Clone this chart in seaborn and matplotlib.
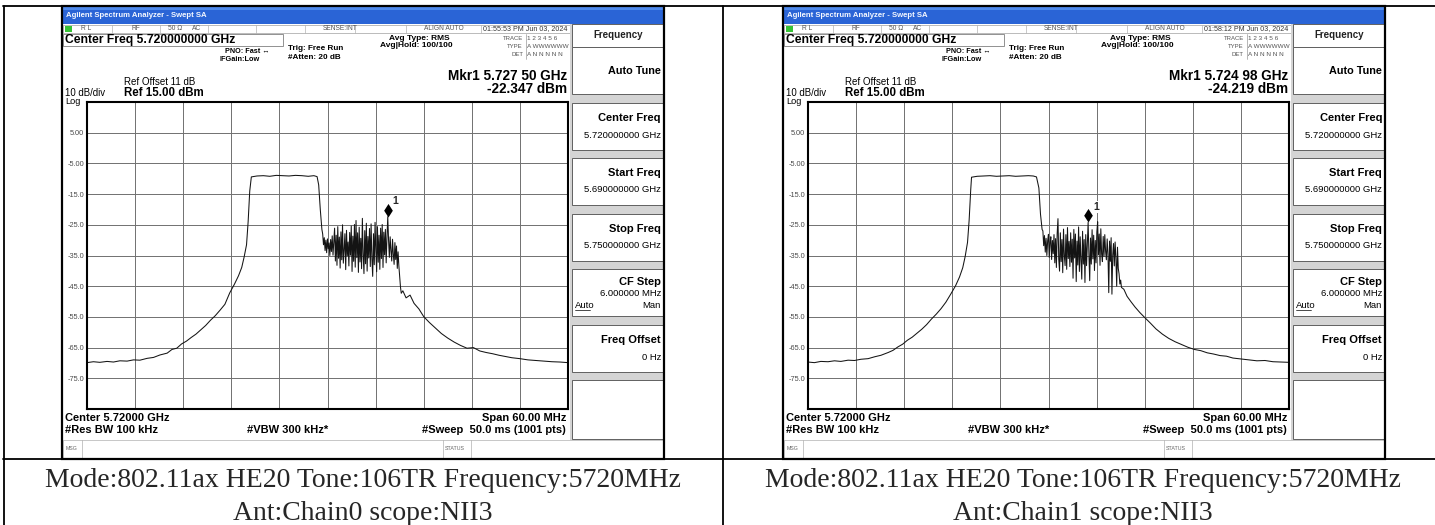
# Two Agilent spectrum analyzer screens (chain0 / chain1) inside a two-cell table
import matplotlib
matplotlib.use("Agg")
import matplotlib.pyplot as plt
import numpy as np
import pandas as pd
import seaborn as sns
from matplotlib.patches import Rectangle
from matplotlib.path import Path

span_ghz = (5.69, 5.75)
ref_range = (-85, 15)
ytick_vals = [5, -5, -15, -25, -35, -45, -55, -65, -75]
ytick_labels = ["5.00", "-5.00", "-15.0", "-25.0", "-35.0", "-45.0", "-55.0", "-65.0", "-75.0"]

# lower skirt (both chains share the frequency points)
skirt_lo_f = [5.6900, 5.6908, 5.6916, 5.6925, 5.6933, 5.6941, 5.6950, 5.6958, 5.6966, 5.6975,
              5.6983, 5.6991, 5.7000, 5.7006, 5.7012, 5.7018, 5.7024, 5.7030, 5.7036, 5.7042,
              5.7048, 5.7054, 5.7060, 5.7066, 5.7072, 5.7078, 5.7084, 5.7089, 5.7093, 5.7096,
              5.7099, 5.7101, 5.7103]
c0_skirt_lo = [-69.9, -69.6, -69.8, -69.5, -69.7, -69.3, -69.4, -69.0, -69.1, -68.5,
               -68.2, -67.4, -66.8, -65.6, -65.2, -63.8, -62.9, -61.7, -60.6, -59.2,
               -57.8, -56.1, -54.6, -52.8, -50.9, -47.2, -44.3, -41.6, -38.9, -35.5,
               -31.5, -24.0, -14.0]
c1_skirt_lo = [-69.7, -69.9, -69.5, -69.6, -69.3, -69.5, -69.1, -69.2, -68.8, -68.6,
               -68.0, -67.5, -66.6, -65.9, -64.8, -63.9, -62.6, -61.6, -60.3, -59.0,
               -57.5, -55.7, -54.1, -52.3, -50.2, -47.6, -44.9, -42.0, -39.0, -35.4,
               -30.7, -23.5, -13.5]

# flat top of the 106-tone RU and the fall into the noisy part
c0_top_f = [5.7105, 5.7112, 5.7120, 5.7128, 5.7136, 5.7144, 5.7152, 5.7160, 5.7168, 5.7176,
            5.7183, 5.7187, 5.7189, 5.7191, 5.7193]
c0_top = [-9.4, -9.1, -9.0, -9.2, -8.9, -9.0, -9.1, -8.9, -9.0, -9.2, -9.0, -9.3, -12.0, -20.0, -26.5]
c1_top_f = [5.7104, 5.7111, 5.7119, 5.7127, 5.7135, 5.7143, 5.7151, 5.7159, 5.7167, 5.7175,
            5.7181, 5.7185, 5.7188, 5.7190, 5.7192]
c1_top = [-9.5, -9.2, -9.1, -9.0, -9.2, -9.1, -9.0, -9.2, -9.1, -9.0, -9.1, -9.4, -13.0, -21.5, -26.5]

# noisy part, sampled evenly over its span
c0_noise_span = (5.7194, 5.7292)
c0_noise = [-28.0, -31.5, -29.2, -33.4, -30.0, -34.1, -29.6, -32.8, -30.9, -35.0, -29.8, -33.7, -28.6, -34.9, -30.4,
            -26.1, -36.8, -28.4, -38.2, -25.6, -35.9, -29.0, -39.1, -27.3, -36.4,
            -25.0, -37.5, -33.2, -27.9, -39.6, -26.8, -35.1, -30.6, -38.4, -27.5,
            -34.9, -25.4, -40.2, -28.7, -36.9, -24.9, -38.8, -23.6, -35.7, -27.6,
            -40.5, -25.8, -37.1, -29.4, -39.3, -22.9, -34.6, -40.9, -26.9, -37.7,
            -24.5, -40.1, -28.8, -35.8,
            -26.2, -38.6, -24.7, -36.1, -41.8, -27.9, -38.0, -24.2, -33.5, -40.3,
            -25.6, -37.2, -28.4, -39.5, -26.1, -36.0, -24.9, -38.9, -27.4, -34.8,
            -26.5, -37.4, -29.1, -22.347,
            -30.0, -35.6, -28.9, -33.4, -36.8, -29.7, -34.5, -37.9, -30.8, -36.3,
            -31.9, -39.2, -33.8, -38.4, -42.0, -45.2, -47.3]
c1_noise_span = (5.7193, 5.7291)
c1_noise = [-27.0, -31.8, -28.5, -33.9, -29.4, -35.0, -30.2, -28.1, -35.6, -30.8, -28.9, -36.3, -30.1, -34.4, -28.2,
            -37.4, -29.5, -38.9, -27.8, -23.0, -36.2, -40.1, -27.6, -37.0, -29.8,
            -40.6, -26.4, -35.1, -38.3, -28.2, -39.5, -25.9, -36.0, -30.4, -38.6,
            -27.6, -37.2, -29.7, -42.4, -26.5, -35.8, -28.0, -43.5, -30.3, -38.1,
            -25.7, -40.2, -28.9, -36.5, -42.7, -27.1, -37.8, -29.8, -43.8, -28.2,
            -38.3, -31.0, -24.219,
            -34.6, -43.2, -29.3, -37.8, -26.6, -36.1, -28.4, -39.9, -30.1, -37.4,
            -27.3, -24.0, -34.8, -28.0, -38.2, -26.3, -34.5, -37.0, -28.8, -35.3,
            -28.2, -33.6, -36.4,
            -29.6, -34.5, -47.1, -30.3, -36.9, -29.2, -47.6, -34.9, -31.1, -38.4,
            -30.6, -35.7, -45.0, -32.3, -39.2, -41.0, -44.3, -43.0, -45.4]

# upper skirt
skirt_hi_f = [5.7294, 5.7298, 5.7303, 5.7308, 5.7314, 5.7320, 5.7327, 5.7334, 5.7342, 5.7350,
              5.7358, 5.7366, 5.7374, 5.7382, 5.7390, 5.7398, 5.7406, 5.7414, 5.7422, 5.7430,
              5.7440, 5.7450, 5.7460, 5.7470, 5.7480, 5.7490, 5.7500]
c0_skirt_hi = [-46.5, -48.8, -47.9, -50.6, -52.4, -54.9, -56.8, -58.5, -60.4, -61.9,
               -63.2, -64.3, -65.2, -65.0, -66.1, -66.6, -67.0, -67.5, -67.9, -68.3,
               -68.6, -69.0, -69.2, -69.4, -69.6, -69.7, -69.9]
c1_skirt_hi = [-46.0, -48.3, -50.1, -51.8, -53.6, -55.2, -57.0, -58.9, -60.6, -62.0,
               -63.1, -64.0, -64.9, -65.6, -66.0, -66.7, -67.1, -67.6, -67.8, -68.4,
               -68.7, -69.0, -69.3, -69.2, -69.6, -69.7, -69.8]

mkr_freq = [5.72750, 5.72498]
mkr_level = [-22.347, -24.219]
mkr_text = ["Mkr1 5.727 50 GHz", "Mkr1 5.724 98 GHz"]
mkr_value_text = ["-22.347 dBm", "-24.219 dBm"]
clock_text = ["01:55:53 PM Jun 03, 2024", "01:58:12 PM Jun 03, 2024"]
captions = [("Mode:802.11ax HE20 Tone:106TR Frequency:5720MHz", "Ant:Chain0 scope:NII3"),
            ("Mode:802.11ax HE20 Tone:106TR Frequency:5720MHz", "Ant:Chain1 scope:NII3")]


def build_trace(skirt_lo, top_f, top, noise_span, noise, skirt_hi):
    nf = np.linspace(noise_span[0], noise_span[1], len(noise))
    f = list(skirt_lo_f) + list(top_f) + list(nf) + list(skirt_hi_f)
    v = list(skirt_lo) + list(top) + list(noise) + list(skirt_hi)
    return pd.DataFrame({"freq": f, "level": v})


traces = [build_trace(c0_skirt_lo, c0_top_f, c0_top, c0_noise_span, c0_noise, c0_skirt_hi),
          build_trace(c1_skirt_lo, c1_top_f, c1_top, c1_noise_span, c1_noise, c1_skirt_hi)]

# ---------------- figure ----------------
sns.set_style("white")
plt.rcParams['font.family'] = ['Liberation Sans', 'DejaVu Sans']

W, H = 1435, 525
fig = plt.figure(figsize=(W / 100, H / 100), dpi=100)
cv = fig.add_axes([0, 0, 1, 1])
cv.set_xlim(0, W)
cv.set_ylim(H, 0)
cv.axis('off')


def txt(x, y, s, size, ha='left', weight='normal', color='black', **kw):
    cv.text(x, y, s, fontsize=size, ha=ha, va='center', fontweight=weight, color=color, zorder=5, **kw)


def box(x, y, w, h, fc='white', ec='#707070', lw=0.6, z=3):
    cv.add_patch(Rectangle((x, y), w, h, fc=fc, ec=ec, lw=lw, zorder=z))


def draw_screen(x0, k):
    box(x0, 6, 602, 453, fc='white', ec='none', z=1)
    # title bar
    box(x0, 6.5, 602, 17.5, fc='#2a64d6', ec='none', z=2)
    box(x0, 6.5, 602, 3, fc='#4f8aec', ec='none', z=2)
    txt(x0 + 4, 15.5, "Agilent Spectrum Analyzer - Swept SA", 5.6, weight='bold', color='#f4f7ff')
    # status row
    box(x0 + 1, 24.5, 507, 8.5, fc='white', ec='#a0a0a0', lw=0.5, z=2)
    for sx in [50, 98, 146, 194, 243, 293, 344, 419]:
        cv.plot([x0 + sx] * 2, [24.5, 33], color='#b4b4b4', lw=0.5, zorder=3)
    box(x0 + 3, 26, 7, 6, fc='#36c236', ec='none', z=4)
    grey = '#555555'
    txt(x0 + 19, 29, "R L", 4.8, color=grey)
    txt(x0 + 69, 29, "RF", 4.8, color=grey)
    txt(x0 + 106, 29, "50 Ω", 4.8, color=grey)
    txt(x0 + 130, 29, "AC", 4.8, color=grey)
    txt(x0 + 261, 29, "SENSE:INT", 4.8, color=grey)
    txt(x0 + 362, 29, "ALIGN AUTO", 4.8, color=grey)
    txt(x0 + 421, 29, clock_text[k], 5.1, color='#333333')
    # header block
    box(x0 + 1, 34, 220, 12, fc='none', ec='#808080', lw=0.6)
    txt(x0 + 3, 40, "Center Freq 5.720000000 GHz", 8.7, weight='bold')
    txt(x0 + 163, 51.5, "PNO: Fast ↔", 5.2, weight='bold')
    txt(x0 + 158, 59.3, "IFGain:Low", 5.3, weight='bold')
    txt(x0 + 226, 48.5, "Trig: Free Run", 5.9, weight='bold')
    txt(x0 + 226, 57.5, "#Atten: 20 dB", 5.9, weight='bold')
    txt(x0 + 327, 38.5, "Avg Type: RMS", 6.0, weight='bold')
    txt(x0 + 318, 45.5, "Avg|Hold: 100/100", 6.0, weight='bold')
    for yy, lab, val in [(38, "TRACE", "1 2 3 4 5 6"), (47, "TYPE", "A WWWWWW"), (55, "DET", "A N N N N N")]:
        txt(x0 + 461, yy, lab, 4.3, ha='right', color=grey)
        txt(x0 + 465, yy, val, 4.6, color=grey)
    cv.plot([x0 + 463.5] * 2, [34, 59], color='#9a9a9a', lw=0.5, zorder=3)
    txt(x0 + 505, 76, mkr_text[k], 9.8, ha='right', weight='bold')
    txt(x0 + 505, 89, mkr_value_text[k], 9.8, ha='right', weight='bold')
    txt(x0 + 62, 82, "Ref Offset 11 dB", 7.0)
    txt(x0 + 62, 93, "Ref 15.00 dBm", 8.3, weight='bold')
    txt(x0 + 3, 93.5, "10 dB/div", 6.9)
    txt(x0 + 3, 102, "Log", 6.6)
    # softkey panel
    box(x0 + 508, 24, 93, 416, fc='#d4d4d4', ec='none', z=2)
    box(x0 + 510, 24, 91, 23, fc='white', ec='#606060', lw=0.7)
    txt(x0 + 556, 35, "Frequency", 7.0, ha='center', weight='bold', color='#222222')
    box(x0 + 510, 47, 91, 47, fc='white', ec='#606060', lw=0.7)
    txt(x0 + 599, 71, "Auto Tune", 7.8, ha='right', weight='bold')
    keys = [(103, "Center Freq", "5.720000000 GHz"), (158, "Start Freq", "5.690000000 GHz"),
            (214, "Stop Freq", "5.750000000 GHz"), (269, "CF Step", None), (325, "Freq Offset", "0 Hz")]
    for top, title, value in keys:
        box(x0 + 510, top, 91, 47, fc='white', ec='#606060', lw=0.7)
        if value is None:
            txt(x0 + 599, top + 13, title, 8.0, ha='right', weight='bold')
            txt(x0 + 599, top + 24, "6.000000 MHz", 6.8, ha='right')
            txt(x0 + 513, top + 36, "Auto", 6.8)
            cv.plot([x0 + 513, x0 + 528], [top + 40.5] * 2, color='black', lw=0.5, zorder=5)
            txt(x0 + 599, top + 36, "Man", 6.8, ha='right')
        else:
            txt(x0 + 599, top + 15, title, 8.0, ha='right', weight='bold')
            txt(x0 + 599, top + 32, value, 6.8, ha='right')
    box(x0 + 510, 380, 91, 59, fc='white', ec='#606060', lw=0.7)
    # bottom annotation
    txt(x0 + 3, 418, "Center 5.72000 GHz", 8.0, weight='bold')
    txt(x0 + 3, 430, "#Res BW 100 kHz", 8.0, weight='bold')
    txt(x0 + 185, 430, "#VBW 300 kHz*", 8.0, weight='bold')
    txt(x0 + 504, 418, "Span 60.00 MHz", 8.0, ha='right', weight='bold')
    txt(x0 + 504, 430, "#Sweep  50.0 ms (1001 pts)", 8.0, ha='right', weight='bold')
    # message row
    box(x0 + 1, 440, 600, 18, fc='white', ec='#b0b0b0', lw=0.5)
    for sx in [20, 381, 409]:
        cv.plot([x0 + sx] * 2, [440, 458], color='#b0b0b0', lw=0.5, zorder=4)
    txt(x0 + 4, 448.5, "MSG", 3.8, color='#666666')
    txt(x0 + 383, 448.5, "STATUS", 3.8, color='#666666')
    # screen frame
    cv.add_patch(Rectangle((x0, 6), 602, 453, fc='none', ec='black', lw=1.6, zorder=8))

    # graticule
    gx0, gx1, gy0, gy1 = x0 + 25, x0 + 506, 102, 409
    ax = fig.add_axes([gx0 / W, 1 - gy1 / H, (gx1 - gx0) / W, (gy1 - gy0) / H])
    ax.set_facecolor('white')
    sns.lineplot(data=traces[k], x="freq", y="level", ax=ax, color='#141414', lw=0.75, estimator=None)
    ax.set_xlim(*span_ghz)
    ax.set_ylim(*ref_range)
    ax.set_xticks([span_ghz[0] + 0.006 * i for i in range(1, 10)])
    ax.set_xticklabels([])
    ax.set_yticks(ytick_vals)
    ax.set_yticklabels(ytick_labels)
    ax.set_xlabel("")
    ax.set_ylabel("")
    ax.grid(True, color='#707070', lw=0.7)
    ax.set_axisbelow(True)
    ax.tick_params(length=0, pad=2.2, labelsize=5.3, labelcolor='#4a4a4a')
    for sp in ax.spines.values():
        sp.set_color('black')
        sp.set_linewidth(1.5)
    diamond = Path([(0, 0), (0.32, 0.5), (0, 1), (-0.32, 0.5), (0, 0)],
                   [Path.MOVETO, Path.LINETO, Path.LINETO, Path.LINETO, Path.CLOSEPOLY])
    ax.plot([mkr_freq[k]], [mkr_level[k]], marker=diamond, ms=19.5, color='black', mew=0, zorder=6)
    ax.annotate("1", (mkr_freq[k], mkr_level[k]), xytext=(5.3, 11.3), textcoords='offset points',
                fontsize=7.5, fontweight='bold', ha='center', va='center', zorder=7,
                bbox=dict(boxstyle='square,pad=0.1', fc='white', ec='none'))
    return ax


draw_screen(62, 0)
draw_screen(783, 1)

# table grid
line_kw = dict(color='black', lw=1.3, zorder=9)
cv.plot([3.5, 3.5], [5.5, H], **line_kw)
cv.plot([723, 723], [5.5, H], **line_kw)
cv.plot([3, W], [5.5, 5.5], **line_kw)
cv.plot([3, W], [458.5, 458.5], **line_kw)

for cx, (l1, l2) in zip([363, 1083], captions):
    cv.text(cx, 487, l1, fontsize=20, ha='center', va='baseline', family='Liberation Serif', zorder=6)
    cv.text(cx, 520, l2, fontsize=20, ha='center', va='baseline', family='Liberation Serif', zorder=6)

fig.savefig("out.png", dpi=100)
